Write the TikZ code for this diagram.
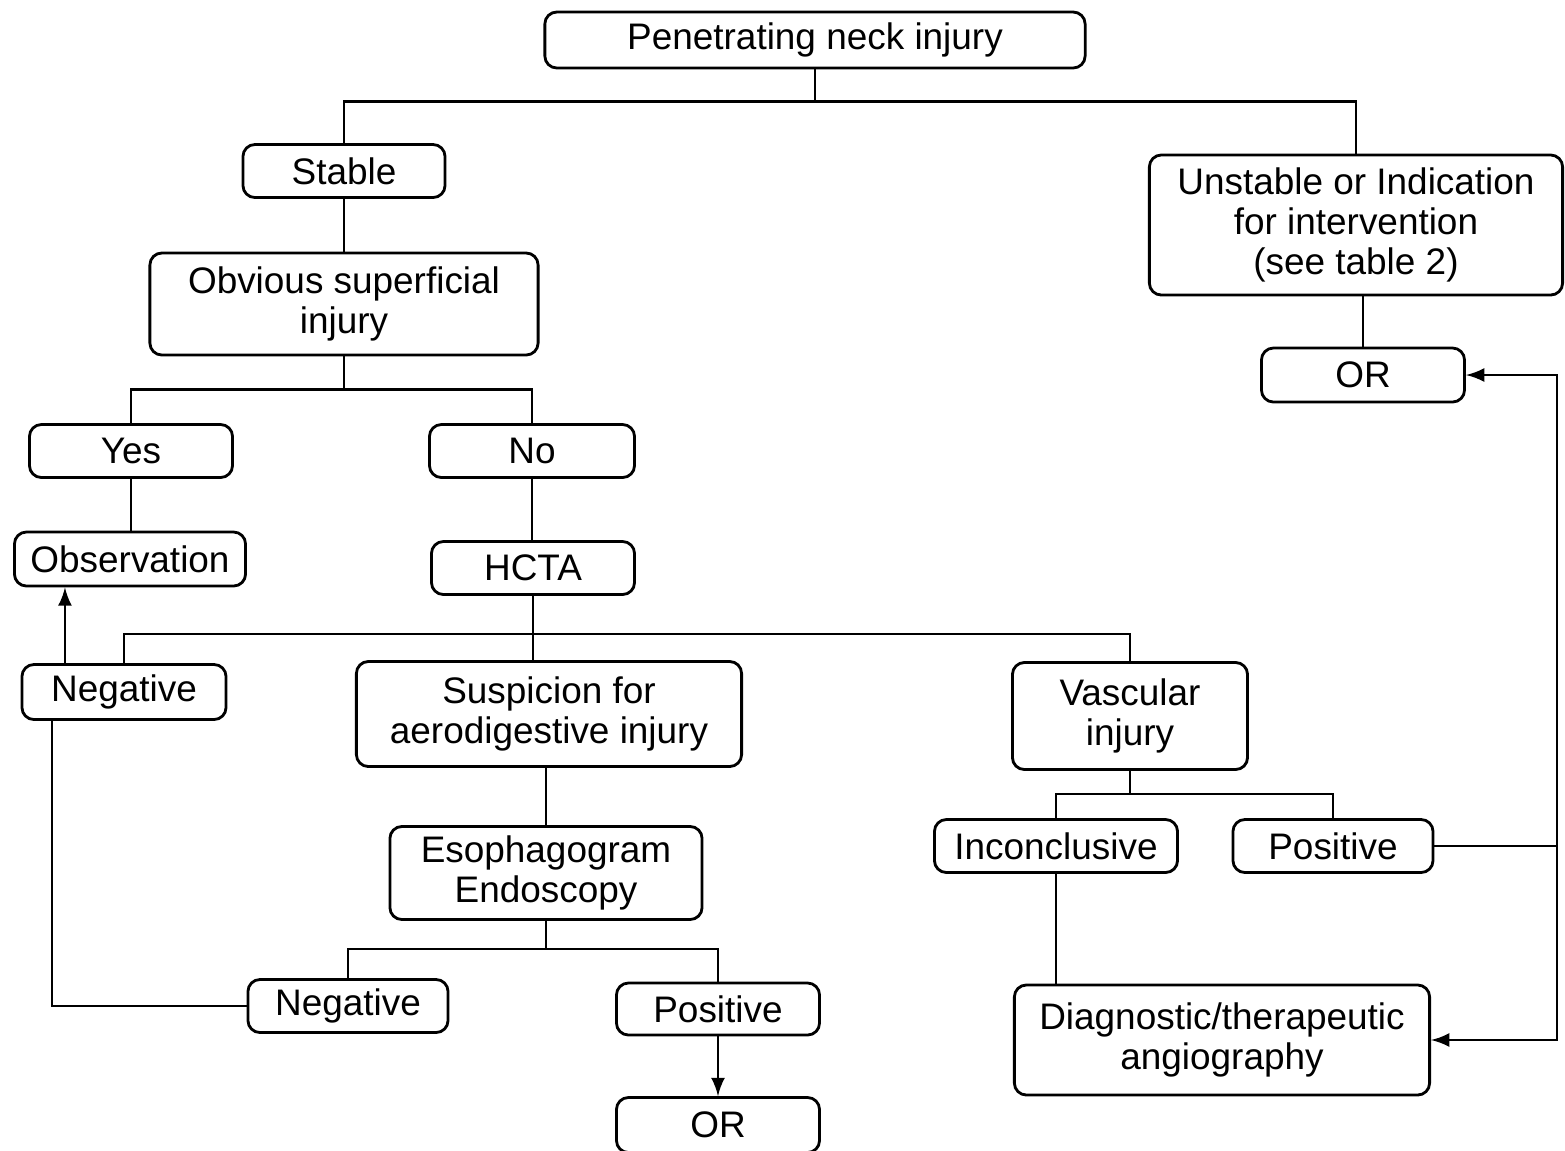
\documentclass[tikz,border=0pt]{standalone}
\usepackage{fontspec}
\setmainfont{Liberation Sans}
\usetikzlibrary{arrows}

\begin{document}
\begin{tikzpicture}[x=0.01cm, y=-0.01cm, >=latex, line width=0.8pt,
    box/.style={draw, rounded corners=0.12cm, align=center, inner sep=0pt,
                font=\fontsize{10.5pt}{11.4pt}\selectfont},
    dims/.style 2 args={minimum width=#1cm, minimum height=#2cm}]
    \useasboundingbox (0,0) rectangle (1565,1150);

    % top of the tree
    \node[box, dims={5.40}{0.56}] (injury)    at (815,40)    {Penetrating neck injury};
    \node[box, dims={2.02}{0.53}] (stable)    at (344,171)   {Stable};
    \node[box, dims={4.13}{1.40}] (unstable)  at (1356,225)  {Unstable or Indication\\for intervention\\(see table 2)};
    \node[box, dims={2.03}{0.54}] (ortop)     at (1363,375)  {OR};
    \node[box, dims={3.88}{1.02}] (obvious)   at (344,304)   {Obvious superficial\\injury};
    \node[box, dims={2.03}{0.53}] (yes)       at (131,451)   {Yes};
    \node[box, dims={2.05}{0.53}] (no)        at (532,451)   {No};
    \node[box, dims={2.31}{0.54}] (observ)    at (130,559)   {Observation};
    \node[box, dims={2.03}{0.53}] (hcta)      at (533,568)   {HCTA};

    % after HCTA
    \node[box, dims={2.04}{0.55}] (negctA)    at (124,692)   {Negative};
    \node[box, dims={3.85}{1.05}] (suspicion) at (549,714)   {Suspicion for\\aerodigestive injury};
    \node[box, dims={2.35}{1.07}] (vascular)  at (1130,716)  {Vascular\\injury};
    \node[box, dims={2.43}{0.53}] (inconcl)   at (1056,846)  {Inconclusive};
    \node[box, dims={2.00}{0.53}] (posvasc)   at (1333,846)  {Positive};
    \node[box, dims={4.15}{1.10}] (angio)     at (1222,1040) {Diagnostic/therapeutic\\angiography};
    \node[box, dims={3.12}{0.93}] (esoph)     at (546,873)   {Esophagogram\\Endoscopy};
    \node[box, dims={2.00}{0.53}] (negesoph)  at (348,1006)  {Negative};
    \node[box, dims={2.03}{0.52}] (posesoph)  at (718,1009)  {Positive};
    \node[box, dims={2.03}{0.55}] (orbot)     at (718,1125)  {OR};

    \draw (injury.south) -- ++(0,32) coordinate (b1);
    \draw (stable.north) |- (b1) -| (unstable.north);
    \draw (stable) -- (obvious);
    \draw (obvious.south) -- ++(0,33) coordinate (b2);
    \draw (yes.north) |- (b2) -| (no.north);
    \draw (yes.south) -- (yes.south |- observ.north);
    \draw (no.south) -- (no.south |- hcta.north);
    \draw (ortop.north |- unstable.south) -- (ortop.north);

    \draw (hcta.south) -- (hcta.south |- suspicion.north);
    \draw (hcta.south) ++(0,38) coordinate (b3);
    \draw (negctA.north) |- (b3) -| (vascular.north);
    \draw[->] ([xshift=-0.59cm]negctA.north) -- ([xshift=-0.59cm]negctA.north |- observ.south);

    \draw (esoph.north |- suspicion.south) -- (esoph.north);
    \draw (esoph.south) -- ++(0,28) coordinate (b4);
    \draw (negesoph.north) |- (b4) -| (posesoph.north);
    \draw[->] (posesoph) -- (orbot);
    \draw (negesoph.west) -| ([xshift=-0.72cm]negctA.south);

    \draw (vascular.south) -- ++(0,23) coordinate (b5);
    \draw (inconcl.north) |- (b5) -| (posvasc.north);
    \draw (inconcl.south) -- (inconcl.south |- angio.north);
    \coordinate (rail) at (1557,846);
    \draw (posvasc.east) -- (rail);
    \draw[->] (rail) |- (ortop.east);
    \draw[->] (rail) |- (angio.east);
\end{tikzpicture}
\end{document}
